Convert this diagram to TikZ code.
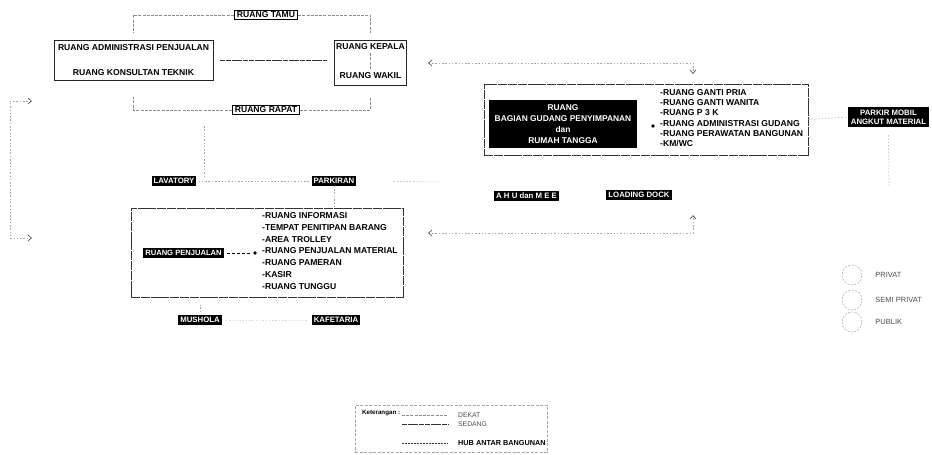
\documentclass[tikz,border=0pt]{standalone}
\usepackage{fontspec}
\setmainfont{Liberation Sans}
\usetikzlibrary{positioning,arrows.meta}

\tikzset{
  ruang/.style={draw=black, line width=0.9pt, font=\fontsize{8.6}{9}\selectfont\bfseries, inner xsep=2.6pt, inner ysep=1.8pt},
  kotak/.style={draw=black!85, line width=0.7pt},
  kotakluar/.style={draw=black!80, line width=0.7pt, dash pattern=on 9pt off 0.8pt},
  teks/.style={font=\fontsize{8.6}{9}\selectfont\bfseries, inner sep=0pt},
  blok/.style={fill=black, text=white, font=\fontsize{7.8}{8}\selectfont\bfseries, inner xsep=2pt, inner ysep=2pt},
  daftar/.style={align=left, anchor=west, inner sep=0pt},
  dekat/.style={draw=black!45, line width=0.5pt, dash pattern=on 3pt off 1.2pt},
  sedang/.style={draw=black!80, line width=0.6pt, dash pattern=on 5pt off 0.7pt},
  hub/.style={draw=black!35, line width=0.5pt, dash pattern=on 1.5pt off 1.8pt},
  ujung/.style={arrows={Straight Barb[length=3.5pt,width=6pt,line width=0.7pt,color=black!65]-Straight Barb[length=3.5pt,width=6pt,line width=0.7pt,color=black!65]}},
  titik/.style={circle, fill=black, inner sep=0pt, minimum size=3.8pt},
  zona/.style={circle, draw=black!35, line width=0.5pt, dash pattern=on 2pt off 1.5pt, minimum size=20pt, inner sep=0pt},
  ket/.style={font=\fontsize{7.5}{8}\selectfont, text=black!70, inner sep=0pt},
}

\begin{document}
\begin{tikzpicture}[x=1pt, y=-1pt]
    \useasboundingbox (0,0) rectangle (932,455);

    % ===== kelompok kantor =====
    \node[ruang] (tamu) at (266,15) {RUANG TAMU};
    \node[ruang] (rapat) at (266,110) {RUANG RAPAT};

    \node[kotak, minimum width=159pt, minimum height=40pt] (adminbox) at (133.5,60) {};
    \node[teks] (admin) at (133.5,48) {RUANG ADMINISTRASI PENJUALAN};
    \node[teks] (konsultan) at (133.5,73) {RUANG KONSULTAN TEKNIK};

    \node[kotak, minimum width=72pt, minimum height=45pt] (kepalabox) at (370.5,62.5) {};
    \node[teks] (kepala) at (370.5,47) {RUANG KEPALA};
    \node[teks] (wakil) at (370.5,76) {RUANG WAKIL};

    \draw[dekat, shorten >=7pt] (tamu.west) -| (adminbox.north);
    \draw[dekat, shorten >=7pt] (tamu.east) -| (kepalabox.north);
    \draw[dekat, shorten >=17pt] (rapat.west) -| (adminbox.south);
    \draw[dekat, shorten >=11pt] (rapat.east) -| (kepalabox.south);
    \draw[sedang, shorten <=7pt, shorten >=7pt] (adminbox.east) -- (adminbox.east -| kepalabox.west);
    \draw[dekat, shorten <=3pt, shorten >=3pt] (kepala) -- (wakil);

    % ===== gudang =====
    \node[kotakluar, minimum width=324pt, minimum height=71pt] (gudangbox) at (646,119.5) {};
    \node[blok, align=center, minimum width=148pt, minimum height=48pt,
          font=\fontsize{8.4}{11}\selectfont\bfseries] (gudang) at (563,124)
          {RUANG\\BAGIAN GUDANG PENYIMPANAN\\dan\\RUMAH TANGGA};
    \node[titik] (gd) at (653,126) {};
    \node[daftar, font=\fontsize{8.6}{10.2}\selectfont\bfseries] (gudanglist) at (660,118)
          {-RUANG GANTI PRIA\\-RUANG GANTI WANITA\\-RUANG P 3 K\\-RUANG ADMINISTRASI GUDANG\\-RUANG PERAWATAN BANGUNAN\\-KM/WC};

    \node[blok, align=center, font=\fontsize{7.8}{9}\selectfont\bfseries,
          minimum width=81pt, minimum height=20pt] (parkir) at (888.5,117) {PARKIR MOBIL\\ANGKUT MATERIAL};
    \draw[hub] (gudangbox.east) -- (parkir.west);
    \coordinate (k3) at (889,186);
    \draw[hub, shorten <=8pt] (parkir.south) -- (k3);

    % ===== penunjang =====
    \node[blok] (lavatory) at (174,181) {LAVATORY};
    \node[blok] (parkiran) at (334,181) {PARKIRAN};
    \node[blok] (ahu) at (526.5,196) {A H U dan M E E};
    \node[blok] (loading) at (639,195) {LOADING DOCK};

    \coordinate (k1) at (204,126);
    \draw[hub] (k1) -- (k1 |- lavatory.north);
    \draw[hub, shorten <=2pt, shorten >=2pt] (lavatory) -- (parkiran);
    \coordinate (k2) at (440,182);
    \draw[hub, shorten <=37pt] (parkiran.east) -- (k2);

    % ===== penjualan =====
    \node[kotakluar, minimum width=272pt, minimum height=89pt] (pjbox) at (267,252.5) {};
    \node[blok, font=\fontsize{7.6}{8}\selectfont\bfseries] (penjualan) at (183.5,253) {RUANG PENJUALAN};
    \node[titik] (pd) at (255,253) {};
    \draw[black, line width=0.6pt, dash pattern=on 3pt off 2pt, shorten <=3pt, shorten >=3pt] (penjualan) -- (pd);
    \node[daftar, font=\fontsize{8.6}{11.7}\selectfont\bfseries] (pjlist) at (262,251)
          {-RUANG INFORMASI\\-TEMPAT PENITIPAN BARANG\\-AREA TROLLEY\\-RUANG PENJUALAN MATERIAL\\-RUANG PAMERAN\\-KASIR\\-RUANG TUNGGU};
    \draw[hub] (parkiran.south) -- (parkiran.south |- pjbox.north);

    \node[blok] (mushola) at (200,320) {MUSHOLA};
    \node[blok] (kafetaria) at (336,320) {KAFETARIA};
    \draw[hub, shorten <=3pt, shorten >=8pt] (mushola.north) -- (mushola.north |- pjbox.south);
    \draw[hub, draw=black!15, shorten <=4pt, shorten >=4pt] (mushola) -- (kafetaria);

    % ===== hubungan antar bangunan =====
    \coordinate (a1) at (428,63);
    \coordinate (a2) at (693,74);
    \draw[hub, ujung] (a1) -| (a2);
    \coordinate (b1) at (428,233);
    \coordinate (b2) at (693,215);
    \draw[hub, ujung] (b1) -| (b2);
    \coordinate (c1) at (32,101);
    \coordinate (c2) at (32,238);
    \draw[hub, ujung] (c1) -- (10,101) -- (10,238) -- (c2);

    % ===== zona =====
    \node[zona] (privat) at (852,275) {};
    \node[zona] (semiprivat) at (852,300) {};
    \node[zona] (publik) at (852,322) {};
    \node[ket, anchor=west, right=13pt of privat] (tprivat) {PRIVAT};
    \node[ket, anchor=west, right=13pt of semiprivat] (tsemiprivat) {SEMI PRIVAT};
    \node[ket, anchor=west, right=13pt of publik] (tpublik) {PUBLIK};

    % ===== keterangan =====
    \node[draw=black!35, line width=0.5pt, dash pattern=on 3pt off 1.5pt,
          minimum width=192pt, minimum height=47pt] (legenda) at (451,428.5) {};
    \node[anchor=west, inner sep=0pt, font=\fontsize{6.2}{7}\selectfont\bfseries] (keterangan) at (362,413) {Keterangan :};
    \coordinate (l1a) at (402,415); \coordinate (l1b) at (448,415);
    \coordinate (l2a) at (402,424); \coordinate (l2b) at (448,424);
    \coordinate (l3a) at (402,443); \coordinate (l3b) at (448,443);
    \draw[dekat] (l1a) -- (l1b);
    \draw[sedang] (l2a) -- (l2b);
    \draw[black!80, line width=0.6pt, dash pattern=on 2pt off 1pt] (l3a) -- (l3b);
    \node[ket, anchor=west, font=\fontsize{6.8}{7}\selectfont] (tdekat) at (458,415) {DEKAT};
    \node[ket, anchor=west, font=\fontsize{6.8}{7}\selectfont] (tsedang) at (458,424) {SEDANG};
    \node[ket, anchor=west, text=black, font=\fontsize{7.3}{8}\selectfont\bfseries] (thub) at (458,443) {HUB ANTAR BANGUNAN};

\end{tikzpicture}
\end{document}
